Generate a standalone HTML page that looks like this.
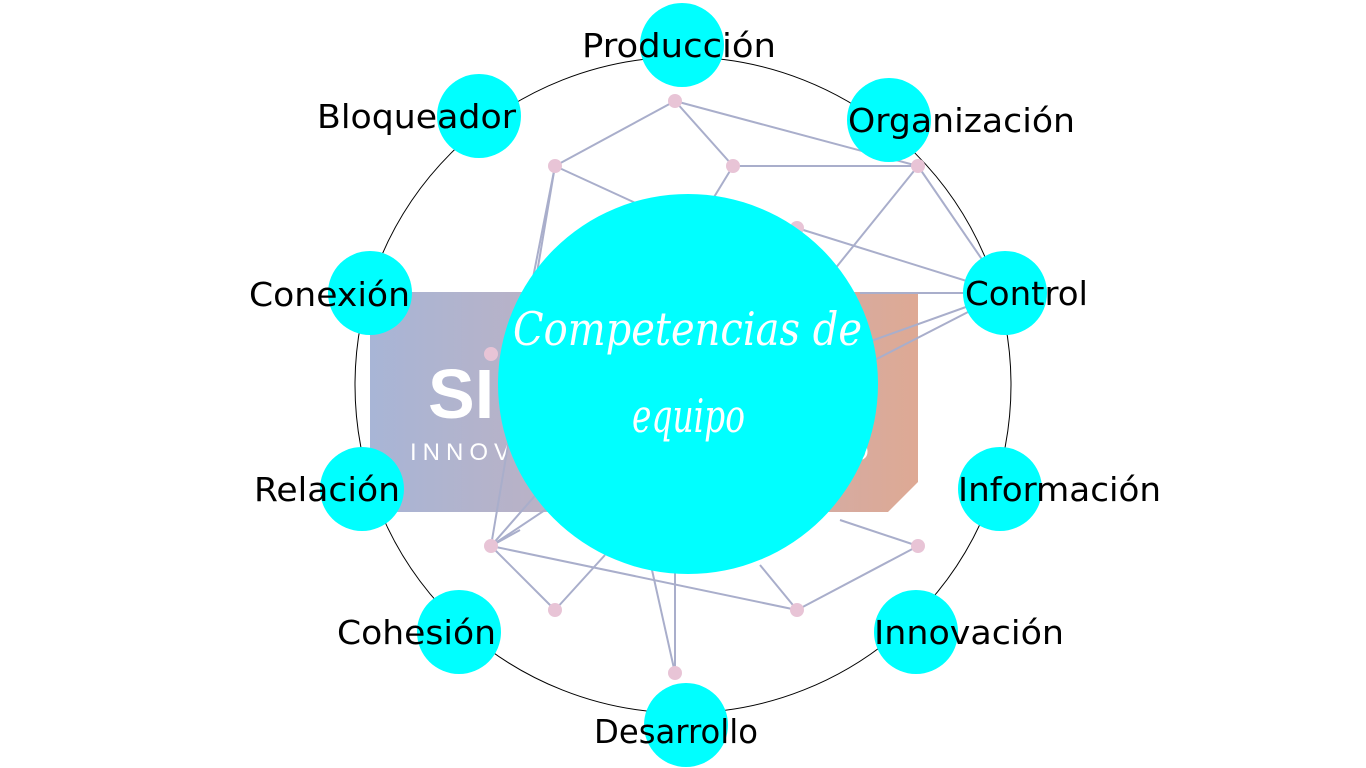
<!DOCTYPE html>
<html><head><meta charset="utf-8"><style>
html,body{margin:0;padding:0;background:#fff;}
svg{display:block;}
</style></head><body>
<svg width="1366" height="768" viewBox="0 0 1366 768" xmlns="http://www.w3.org/2000/svg">
<defs>
<linearGradient id="g" x1="0" x2="1" y1="0" y2="0">
<stop offset="0" stop-color="#a8b5d6"/>
<stop offset="0.5" stop-color="#c4b0bc"/>
<stop offset="1" stop-color="#dea994"/>
</linearGradient>
</defs>
<polygon points="400,292 918,292 918,482 888,512 370,512 370,322" fill="url(#g)"/>
<text x="428" y="418" font-family="Liberation Sans, sans-serif" font-weight="bold" font-size="70" fill="#fff">SI</text>
<text x="410" y="460" font-family="Liberation Sans, sans-serif" font-size="24" letter-spacing="6" fill="#fff">INNOV</text>
<text x="850" y="460" font-family="Liberation Sans, sans-serif" font-size="24" fill="#fff">O</text>
<circle cx="683" cy="385" r="328" fill="none" stroke="#000" stroke-width="1"/>
<g stroke="#a9aecb" stroke-width="2" fill="none">
<line x1="675" y1="101" x2="555" y2="166"/>
<line x1="675" y1="101" x2="733" y2="166"/>
<line x1="675" y1="101" x2="918" y2="166"/>
<line x1="733" y1="166" x2="918" y2="166"/>
<line x1="733" y1="166" x2="700" y2="220"/>
<line x1="555" y1="166" x2="640" y2="205"/>
<line x1="555" y1="166" x2="491" y2="546"/>
<line x1="555" y1="166" x2="505" y2="420"/>
<line x1="918" y1="166" x2="1005" y2="293"/>
<line x1="918" y1="166" x2="830" y2="275"/>
<line x1="797" y1="228" x2="1005" y2="293"/>
<line x1="1005" y1="293" x2="860" y2="293"/>
<line x1="1005" y1="293" x2="860" y2="345"/>
<line x1="1005" y1="293" x2="865" y2="365"/>
<line x1="491" y1="546" x2="797" y2="610"/>
<line x1="491" y1="546" x2="555" y2="610"/>
<line x1="491" y1="546" x2="540" y2="490"/>
<line x1="491" y1="546" x2="560" y2="500"/>
<line x1="491" y1="546" x2="520" y2="530"/>
<line x1="555" y1="610" x2="605" y2="555"/>
<line x1="797" y1="610" x2="918" y2="546"/>
<line x1="797" y1="610" x2="760" y2="565"/>
<line x1="918" y1="546" x2="840" y2="520"/>
<line x1="675" y1="673" x2="675" y2="570"/>
<line x1="675" y1="673" x2="652" y2="570"/>
</g>
<g fill="#e8c4d6">
<circle cx="675" cy="101" r="7"/><circle cx="733" cy="166" r="7"/><circle cx="918" cy="166" r="7"/>
<circle cx="555" cy="166" r="7"/><circle cx="797" cy="228" r="7"/><circle cx="491" cy="354" r="7"/>
<circle cx="491" cy="546" r="7"/><circle cx="555" cy="610" r="7"/><circle cx="797" cy="610" r="7"/>
<circle cx="918" cy="546" r="7"/><circle cx="675" cy="673" r="7"/>
</g>
<circle cx="688" cy="384" r="190" fill="#00ffff"/>
<g fill="#00ffff">
<circle cx="682" cy="45" r="42"/><circle cx="889" cy="120" r="42"/><circle cx="1005" cy="293" r="42"/>
<circle cx="1000" cy="489" r="42"/><circle cx="916" cy="632" r="42"/><circle cx="686" cy="725" r="42"/>
<circle cx="459" cy="632" r="42"/><circle cx="362" cy="489" r="42"/><circle cx="370" cy="293" r="42"/>
<circle cx="479" cy="116" r="42"/>
</g>
<g font-family="DejaVu Sans, Liberation Sans, sans-serif" font-size="33" fill="#000">
<text x="582" y="57" textLength="194" lengthAdjust="spacingAndGlyphs">Producción</text>
<text x="848" y="132" textLength="227" lengthAdjust="spacingAndGlyphs">Organización</text>
<text x="965" y="305" textLength="123" lengthAdjust="spacingAndGlyphs">Control</text>
<text x="958" y="501" textLength="203" lengthAdjust="spacingAndGlyphs">Información</text>
<text x="874" y="644" textLength="190" lengthAdjust="spacingAndGlyphs">Innovación</text>
<text x="594" y="743" textLength="164" lengthAdjust="spacingAndGlyphs">Desarrollo</text>
<text x="337" y="644" textLength="159" lengthAdjust="spacingAndGlyphs">Cohesión</text>
<text x="254" y="501" textLength="146" lengthAdjust="spacingAndGlyphs">Relación</text>
<text x="249" y="306" textLength="161" lengthAdjust="spacingAndGlyphs">Conexión</text>
<text x="317" y="128" textLength="199" lengthAdjust="spacingAndGlyphs">Bloqueador</text>
</g>
<g font-family="DejaVu Serif, Liberation Serif, serif" font-style="italic" font-size="46" fill="#fff">
<text x="513" y="345" textLength="349" lengthAdjust="spacingAndGlyphs">Competencias de</text>
<text x="632" y="432" textLength="113" lengthAdjust="spacingAndGlyphs">equipo</text>
</g>
</svg>
</body></html>
